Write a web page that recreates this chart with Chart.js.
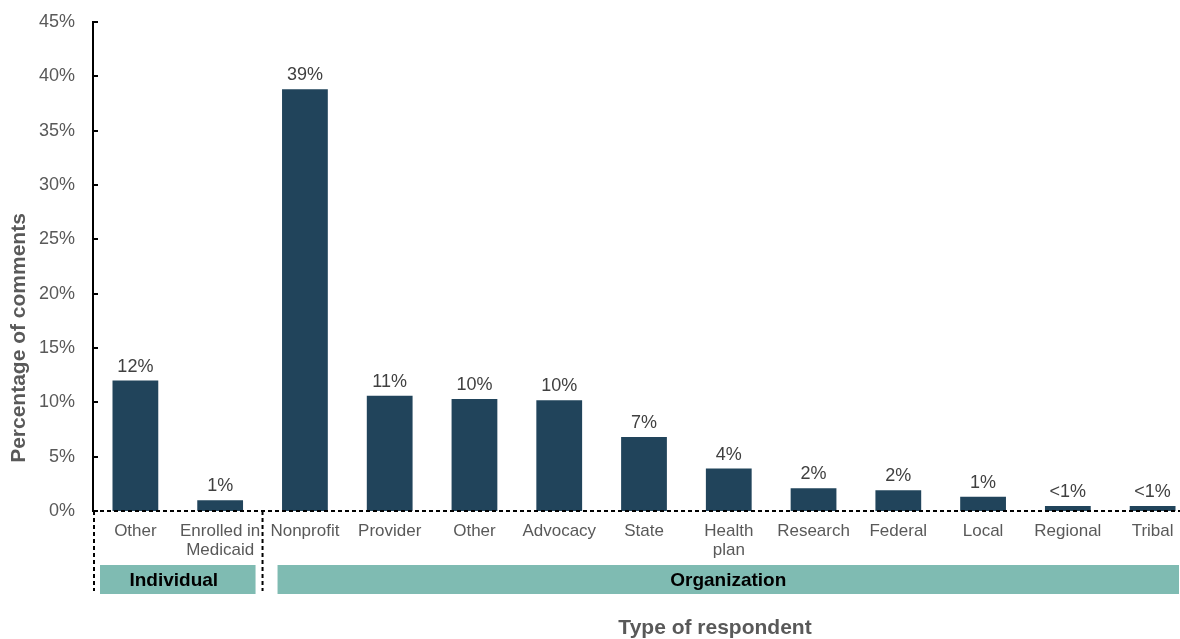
<!DOCTYPE html>
<html>
<head>
<meta charset="utf-8">
<script src="https://cdn.jsdelivr.net/npm/chart.js@4/dist/chart.umd.min.js"></script>
<style>
  html, body { margin: 0; padding: 0; background: #fff; overflow: hidden; }
  #wrap { width: 1200px; height: 639px; position: relative; }
</style>
</head>
<body>
<div id="wrap"><canvas id="barChart"></canvas></div>
<script>
const categories = ['Other', ['Enrolled in', 'Medicaid'], 'Nonprofit', 'Provider', 'Other', 'Advocacy',
  'State', ['Health', 'plan'], 'Research', 'Federal', 'Local', 'Regional', 'Tribal'];
const shares = [12.0, 1.0, 38.8, 10.6, 10.3, 10.2, 6.8, 3.9, 2.1, 1.9, 1.3, 0.45, 0.45];
const shareLabels = ['12%', '1%', '39%', '11%', '10%', '10%', '7%', '4%', '2%', '2%', '1%', '<1%', '<1%'];
const groupNames = ['Individual', 'Organization'];
const groupFirst = [0, 2];
const groupLast = [1, 12];
const xTitle = 'Type of respondent';
const yTitle = 'Percentage of comments';

const FONT = '"Liberation Sans", Arial, sans-serif';
const GREY = '#595959';

const extras = {
  id: 'extras',
  afterDatasetsDraw(chart) {
    const { ctx, chartArea } = chart;
    const x = chart.scales.x;
    const y = chart.scales.y;
    const meta = chart.getDatasetMeta(0);
    const step = x.getPixelForValue(1) - x.getPixelForValue(0);

    // value labels above bars
    ctx.save();
    ctx.font = '18px ' + FONT;
    ctx.fillStyle = '#404040';
    ctx.textAlign = 'center';
    ctx.textBaseline = 'bottom';
    meta.data.forEach((bar, i) => {
      ctx.fillText(shareLabels[i], bar.x, bar.y - 5);
    });
    ctx.restore();

    // inward ticks on y axis
    ctx.save();
    ctx.strokeStyle = '#000';
    ctx.lineWidth = 2;
    y.ticks.forEach(t => {
      const py = Math.round(y.getPixelForValue(t.value));
      ctx.beginPath();
      ctx.moveTo(chartArea.left, py);
      ctx.lineTo(chartArea.left + 5, py);
      ctx.stroke();
    });
    ctx.restore();

    // dashed baseline and group dividers
    const base = y.getPixelForValue(0);
    const bandTop = 565, bandBottom = 594;
    ctx.save();
    ctx.strokeStyle = '#000';
    ctx.lineWidth = 2;
    ctx.setLineDash([4, 3]);
    ctx.beginPath();
    ctx.moveTo(chartArea.left, base);
    ctx.lineTo(chartArea.right, base);
    ctx.stroke();
    [chartArea.left + 1, x.getPixelForValue(groupLast[0]) + step / 2].forEach(px => {
      ctx.beginPath();
      ctx.moveTo(px, base);
      ctx.lineTo(px, bandBottom - 3);
      ctx.stroke();
    });
    ctx.restore();

    // group bands
    ctx.save();
    ctx.font = 'bold 19px ' + FONT;
    ctx.textAlign = 'center';
    ctx.textBaseline = 'middle';
    groupNames.forEach((name, g) => {
      const left = x.getPixelForValue(groupFirst[g]) - step / 2 + (g === 0 ? 7 : 15);
      const right = g === groupNames.length - 1
        ? chartArea.right - 16
        : x.getPixelForValue(groupLast[g]) + step / 2 - 7;
      ctx.fillStyle = '#7fbbb2';
      ctx.fillRect(left, bandTop, right - left, bandBottom - bandTop);
      ctx.fillStyle = '#000';
      ctx.fillText(name, (left + right) / 2 - (g === 0 ? 4 : 0), (bandTop + bandBottom) / 2 + 1);
    });
    ctx.restore();

    // axis titles
    ctx.save();
    ctx.font = 'bold 21px ' + FONT;
    ctx.fillStyle = GREY;
    ctx.textAlign = 'center';
    ctx.textBaseline = 'middle';
    ctx.fillText(xTitle, 715, 628);
    ctx.translate(19, 338);
    ctx.rotate(-Math.PI / 2);
    ctx.fillText(yTitle, 0, 0);
    ctx.restore();
  }
};

new Chart(document.getElementById('barChart'), {
  type: 'bar',
  data: {
    labels: categories,
    datasets: [{
      data: shares,
      backgroundColor: '#21445b',
      categoryPercentage: 1,
      barPercentage: 0.54
    }]
  },
  options: {
    responsive: true,
    maintainAspectRatio: false,
    animation: false,
    layout: { padding: { top: 22, right: 5, left: 0, bottom: 0 } },
    plugins: {
      legend: { display: false },
      tooltip: { enabled: false }
    },
    scales: {
      x: {
        grid: { display: false, drawTicks: false },
        border: { display: false },
        ticks: {
          color: GREY,
          font: { family: FONT, size: 17, lineHeight: 1.1 },
          padding: 11,
          maxRotation: 0,
          autoSkip: false
        },
        afterFit(s) { s.height = 128; }
      },
      y: {
        min: 0,
        max: 45,
        grid: { display: false, drawTicks: false },
        border: { display: true, color: '#000', width: 2 },
        ticks: {
          stepSize: 5,
          color: GREY,
          font: { family: FONT, size: 18 },
          padding: 18,
          callback: v => v + '%'
        },
        afterFit(s) { s.width = 93; s.paddingTop = 0; s.paddingBottom = 0; }
      }
    }
  },
  plugins: [extras]
});
</script>
</body>
</html>
